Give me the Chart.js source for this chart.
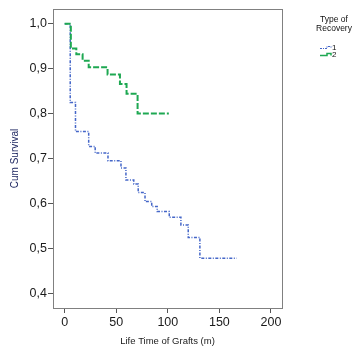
<!DOCTYPE html>
<html>
<head>
<meta charset="utf-8">
<script src="https://cdn.jsdelivr.net/npm/chart.js@4"></script>
<style>
  html, body { margin: 0; padding: 0; background: #fff; }
  #km { display: block; }
</style>
</head>
<body>
<canvas id="km" width="362" height="362"></canvas>
<script>
// группы (тип восстановления)
let recoveryTypes = ['1', '2'];

// тип 1: моменты событий (месяцы) и накопленная выживаемость
let type1Months   = [0, 5.4, 10.5, 23.3, 29.6, 42, 54.6, 59.4, 67, 71.3, 77.9, 84.4, 89.7, 101.4, 112.7, 119.8, 131.1, 166.7];
let type1Survival = [1.0, 0.825, 0.760, 0.727, 0.712, 0.695, 0.679, 0.652, 0.643, 0.624, 0.604, 0.593, 0.582, 0.569, 0.552, 0.524, 0.478, 0.478];

// тип 2
let type2Months   = [0, 6, 11.3, 17.4, 23.3, 41.6, 53.6, 60, 70.7, 101];
let type2Survival = [1.0, 0.945, 0.932, 0.918, 0.903, 0.887, 0.866, 0.844, 0.800, 0.800];

// подписи осей
let xTicks = [0, 50, 100, 150, 200];
let yTicks = [0.4, 0.5, 0.6, 0.7, 0.8, 0.9, 1.0];

let colors = ['#4466c8', '#1ea852'];
let dashes = [[3, 1.5, 1, 1.5], [6, 2]];

function points(months, surv){ //пары x/y для графика
    return months.map(function(m, i){ return {x: m, y: surv[i]}; });
}

let fontName = "'Liberation Sans', Arial, sans-serif";

let boxPlugin = { //рамка вокруг области графика и легенда
    id: 'boxAndLegend',
    afterDraw: function(chart){
        let ctx = chart.ctx;
        let a = chart.chartArea;
        ctx.save();
        ctx.strokeStyle = '#808080';
        ctx.lineWidth = 1;
        ctx.strokeRect(a.left + 0.5, a.top + 0.5, a.right - a.left, a.bottom - a.top);

        // легенда
        ctx.fillStyle = '#111';
        ctx.font = '8.5px ' + fontName;
        ctx.textAlign = 'center';
        ctx.textBaseline = 'alphabetic';
        ctx.fillText('Type of', 334, 22);
        ctx.fillText('Recovery', 334, 30.5);
        recoveryTypes.forEach(function(t, i){
            let y = 48 + i * 7;
            ctx.strokeStyle = colors[i];
            ctx.lineWidth = i == 0 ? 1.2 : 1.5;
            ctx.setLineDash(i == 0 ? [2, 1, 1, 1] : []);
            ctx.beginPath();
            ctx.moveTo(320, y + 0.5);
            ctx.lineTo(327, y + 0.5);
            ctx.lineTo(327, y - 1.5);
            ctx.lineTo(331, y - 1.5);
            ctx.lineTo(331, y + 0.5);
            ctx.stroke();
            ctx.setLineDash([]);
            ctx.fillStyle = '#111';
            ctx.font = '8px ' + fontName;
            ctx.textAlign = 'left';
            ctx.textBaseline = 'middle';
            ctx.fillText(t, 332, y);
        });
        ctx.restore();
    }
};

let data = {
    datasets: [
        {
            label: recoveryTypes[0],
            data: points(type1Months, type1Survival),
            borderColor: colors[0],
            borderWidth: 1.5,
            borderDash: dashes[0],
            stepped: 'before',
            pointRadius: 0,
            fill: false,
            order: 2
        },
        {
            label: recoveryTypes[1],
            data: points(type2Months, type2Survival),
            borderColor: colors[1],
            borderWidth: 2,
            borderDash: dashes[1],
            stepped: 'before',
            pointRadius: 0,
            fill: false,
            order: 1
        }
    ]
};

let config = {
    type: 'line',
    data: data,
    plugins: [boxPlugin],
    options: {
        responsive: false,
        animation: false,
        layout: { padding: { left: 0, right: 80, top: 9, bottom: 0 } },
        plugins: { legend: { display: false }, tooltip: { enabled: false } },
        scales: {
            x: {
                type: 'linear',
                min: -11.3,
                max: 210.7,
                afterBuildTicks: function(s){ s.ticks = xTicks.map(function(v){ return {value: v}; }); },
                afterFit: function(s){ s.height = 54; },
                grid: { drawOnChartArea: false, drawTicks: true, tickLength: 5, color: '#555' },
                border: { display: true, color: '#777' },
                ticks: { color: '#1a1a1a', padding: 2, font: { family: fontName, size: 12.5 }, maxRotation: 0 },
                title: { display: true, text: 'Life Time of Grafts (m)', color: '#1a1a1a',
                         font: { family: fontName, size: 9.5 }, padding: { top: 14.5, bottom: 14.5 } }
            },
            y: {
                type: 'linear',
                min: 0.367,
                max: 1.033,
                afterBuildTicks: function(s){ s.ticks = yTicks.map(function(v){ return {value: v}; }); },
                afterFit: function(s){ s.width = 53; },
                grid: { drawOnChartArea: false, drawTicks: true, tickLength: 5, color: '#555' },
                border: { display: true, color: '#666' },
                ticks: {
                    color: '#1a1a1a', padding: 1, font: { family: fontName, size: 12.5 },
                    callback: function(v){ return v.toFixed(1).replace('.', ','); }
                },
                title: { display: true, text: 'Cum Survival', color: '#1d2660',
                         font: { family: fontName, size: 10 }, padding: { top: 9, bottom: 9 } }
            }
        }
    }
};

const KMChart = new Chart(document.getElementById('km'), config); //создание графика
</script>
</body>
</html>
